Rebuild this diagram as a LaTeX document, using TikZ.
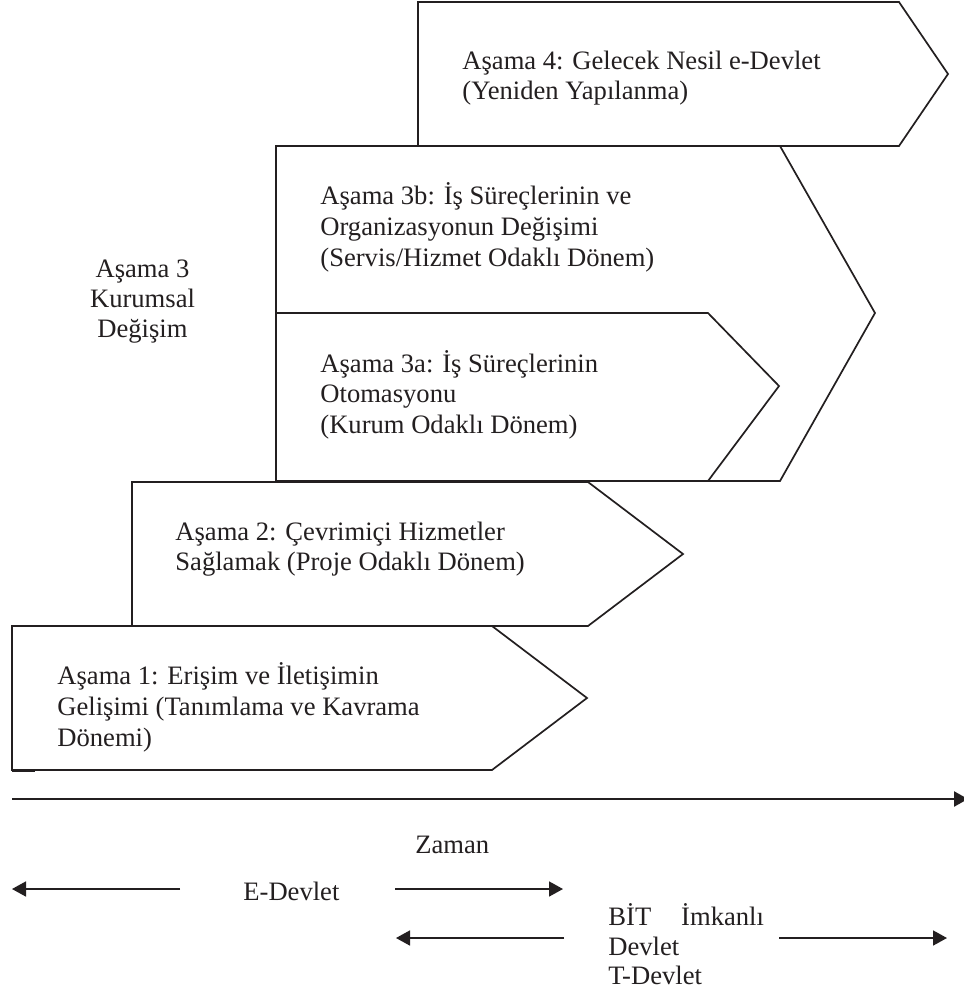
\documentclass[tikz,border=0pt]{standalone}
\usepackage{fontspec}
\setmainfont{Liberation Serif}
\usetikzlibrary{arrows.meta}
\definecolor{ink}{RGB}{35,31,32}
\newcommand{\stagefont}{\fontsize{13.3}{15.25}\selectfont}
\begin{document}
\begin{tikzpicture}[x=0.5pt,y=-0.5pt,
  stage/.style={draw=ink,line width=0.85pt,line join=miter},
  lbl/.style={inner sep=0pt,anchor=base west,text=ink,font=\stagefont},
  clbl/.style={inner sep=0pt,anchor=base,text=ink,font=\stagefont},
  span/.style={draw=ink,line width=0.85pt,-{Triangle[length=7pt,width=7.5pt]}},
  timeline/.style={draw=ink,line width=1.2pt,-{Triangle[length=7pt,width=7.5pt]}}
]
\useasboundingbox[fill=white] (0,0) rectangle (964,991);

% stage chevrons
\draw[stage] (418,146) -- (418,2) -- (899,2) -- (948,74) -- (899,146) -- cycle;        % stage 4
\draw[stage] (276,481) -- (276,146) -- (780,146) -- (875,313) -- (780,481) -- cycle;    % stage 3b
\draw[stage] (276,313) -- (708,313) -- (779,386) -- (708,481);                          % stage 3a
\draw[stage] (132,626) -- (132,482) -- (588,482) -- (683,554) -- (588,626) -- cycle;    % stage 2
\draw[stage] (12,770) -- (12,626) -- (492,626) -- (587,698) -- (492,770) -- cycle;      % stage 1
\draw[stage] (12,771.5) -- (35,771.5);

% stage texts
\node[lbl] (s4a) at (462,69) {Aşama 4: Gelecek Nesil e-Devlet};
\node[lbl] (s4b) at (462,99) {(Yeniden Yapılanma)};

\node[lbl] (s3ba) at (320,204) {Aşama 3b: İş Süreçlerinin ve};
\node[lbl] (s3bb) at (320,235) {Organizasyonun Değişimi};
\node[lbl] (s3bc) at (320,266) {(Servis/Hizmet Odaklı Dönem)};

\node[lbl] (s3aa) at (320,372) {Aşama 3a: İş Süreçlerinin};
\node[lbl] (s3ab) at (320,402.5) {Otomasyonu};
\node[lbl] (s3ac) at (320,433) {(Kurum Odaklı Dönem)};

\node[lbl] (s2a) at (175,540) {Aşama 2: Çevrimiçi Hizmetler};
\node[lbl] (s2b) at (175,570) {Sağlamak (Proje Odaklı Dönem)};

\node[lbl] (s1a) at (57,684) {Aşama 1: Erişim ve İletişimin};
\node[lbl] (s1b) at (57,715) {Gelişimi (Tanımlama ve Kavrama};
\node[lbl] (s1c) at (57,746) {Dönemi)};

\node[clbl] (s3x) at (142.5,277) {Aşama 3};
\node[clbl] (s3y) at (142.5,307) {Kurumsal};
\node[clbl] (s3z) at (142.5,337) {Değişim};

% time axis
\coordinate (t0) at (12,799);
\coordinate (t1) at (968,799);
\draw[timeline] (t0) -- (t1);
\node[lbl] (zaman) at (415,853) {Zaman};

% spans
\coordinate (ea) at (180,889);
\coordinate (eb) at (12,889);
\coordinate (ec) at (395,889);
\coordinate (ed) at (563,889);
\draw[span] (ea) -- (eb);
\draw[span] (ec) -- (ed);
\node[lbl] (edev) at (243,900) {E-Devlet};

\coordinate (ta) at (564,938);
\coordinate (tb) at (396,938);
\coordinate (tc) at (779,938);
\coordinate (td) at (947,938);
\draw[span] (ta) -- (tb);
\draw[span] (tc) -- (td);
\node[lbl] (bit1) at (608,925) {BİT\hspace{15pt}İmkanlı};
\node[lbl] (bit2) at (608,955) {Devlet};
\node[lbl] (bit3) at (608,984) {T-Devlet};
\end{tikzpicture}
\end{document}
